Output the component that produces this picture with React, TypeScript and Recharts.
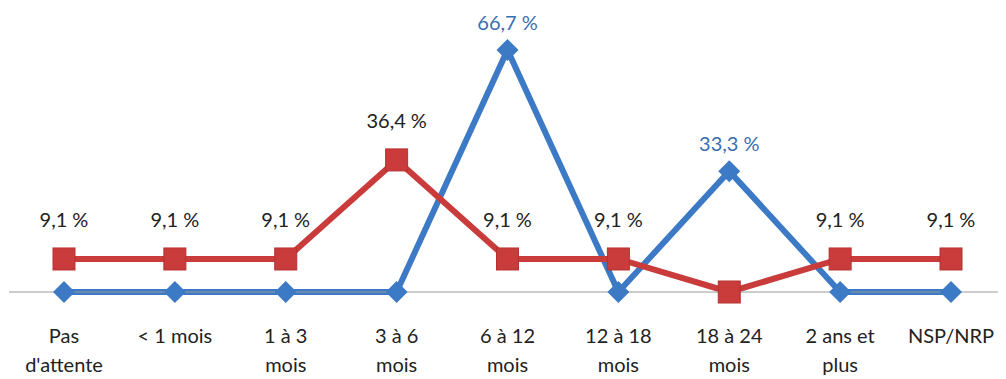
import React from "react";
import { LineChart, Line, XAxis, YAxis, LabelList } from "recharts";

const categories = ["Pas\nd'attente", "< 1 mois", "1 à 3\nmois", "3 à 6\nmois", "6 à 12\nmois", "12 à 18\nmois", "18 à 24\nmois", "2 ans et\nplus", "NSP/NRP"];
const blueValues = [0, 0, 0, 0, 66.7, 0, 33.3, 0, 0];
const redValues = [9.1, 9.1, 9.1, 36.4, 9.1, 9.1, 0, 9.1, 9.1];

const data = categories.map((c, i) => ({ cat: c, blue: blueValues[i], red: redValues[i] }));

const BLUE = "#3D7AC6";
const RED = "#C93C3B";
const FONT = "Lato, 'Open Sans', sans-serif";

const fmt = (v: number) => v.toFixed(1).replace(".", ",") + "\u202f%";

const Tick = (props: any) => {
  const { x, y, payload } = props;
  const lines = String(payload.value).split("\n");
  return (
    <text x={x} y={y} textAnchor="middle" fontFamily={FONT} fontSize={20} fill="#222">
      {lines.map((l, i) => (
        <tspan key={i} x={x} y={y + 43 + i * 29}>{l}</tspan>
      ))}
    </text>
  );
};

const Square = (props: any) => {
  const { cx, cy } = props;
  return <rect x={cx - 11} y={cy - 11} width={22} height={22} fill={RED} stroke="#B5302F" strokeWidth={1} />;
};

const Diamond = (props: any) => {
  const { cx, cy } = props;
  return <path d={`M${cx},${cy - 11} L${cx + 11},${cy} L${cx},${cy + 11} L${cx - 11},${cy} Z`} fill={BLUE} />;
};

const makeLabel = (color: string, dy: number) => (props: any) => {
  const { x, y, value } = props;
  if (!value) return null;
  return (
    <text x={x} y={y - dy} textAnchor="middle" dominantBaseline="central" fontFamily={FONT} fontSize={20} fill={color}>
      {fmt(value)}
    </text>
  );
};

export default function App() {
  return (
    <LineChart width={998} height={371} data={data} margin={{ top: 30, right: 0, bottom: 7, left: 1 }}>
      <XAxis dataKey="cat" height={80} tick={<Tick />} tickLine={false} axisLine={{ stroke: "#9a9a9a", strokeWidth: 1 }} interval={0} padding={{ left: 55, right: 55 }} />
      <YAxis hide domain={[0, 70]} />
      <Line dataKey="blue" stroke={BLUE} strokeWidth={6} dot={<Diamond />} activeDot={false} isAnimationActive={false}>
        <LabelList dataKey="blue" content={makeLabel("#3A6EB0", 28)} />
      </Line>
      <Line dataKey="red" stroke={RED} strokeWidth={6} dot={<Square />} activeDot={false} isAnimationActive={false}>
        <LabelList dataKey="red" content={makeLabel("#222", 40)} />
      </Line>
    </LineChart>
  );
}
